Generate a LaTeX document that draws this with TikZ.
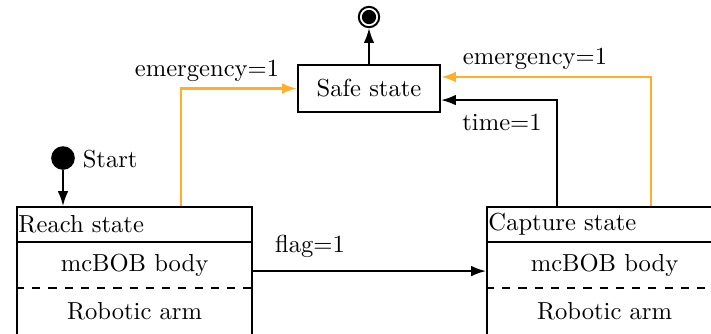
\documentclass[tikz,border=0pt]{standalone}
\usetikzlibrary{arrows.meta,calc}
\definecolor{emerg}{RGB}{255,176,40}
\begin{document}
\begin{tikzpicture}[x=0.4065pt,y=-0.4065pt,
  link/.style={line width=0.75pt,-{Latex[length=6pt,width=4.3pt]}},
  emlink/.style={link,color=emerg,line width=0.9pt},
  statebox/.style={draw,line width=0.9pt,minimum width=95.5pt,minimum height=52pt,inner sep=0pt},
  safebox/.style={draw,line width=0.9pt,minimum width=57.7pt,minimum height=19.1pt},
  lbl/.style={inner sep=0pt},
  sep/.style={line width=0.9pt},
  dsep/.style={line width=0.9pt,dash pattern=on 3.3pt off 3.3pt}
]
\useasboundingbox (0,0) rectangle (711,333);
\clip (0,0) rectangle (711,333);

% Safe state and final state
\node[safebox] (safe) at (369,88.5) {Safe state};
\node[circle,draw,line width=0.8pt,minimum size=8.3pt,inner sep=0pt] (final) at (369,17) {};
\fill (final.center) circle (2.9pt);

% Initial state
\node[circle,fill,minimum size=9.6pt,inner sep=0pt] (start) at (63,158) {};
\node[lbl,anchor=west] (startlbl) at ($(start.east)+(7,1)$) {Start};

% Reach state
\node[statebox,anchor=north west] (reach) at (16,206) {};
\draw[sep] ($(reach.north west)+(0,36)$) -- ($(reach.north east)+(0,36)$);
\draw[dsep] ($(reach.north west)+(0,82)$) -- ($(reach.north east)+(0,82)$);
\node[lbl,anchor=west] (reachtitle) at ($(reach.north west)+(2,18)$) {Reach state};
\node[lbl] (reachbody) at ($(reach.north)+(0,59)$) {mcBOB body};
\node[lbl] (reacharm) at ($(reach.north)+(0,105)$) {Robotic arm};

% Capture state
\node[statebox,anchor=north west] (capture) at (486,206) {};
\draw[sep] ($(capture.north west)+(0,36)$) -- ($(capture.north east)+(0,36)$);
\draw[dsep] ($(capture.north west)+(0,82)$) -- ($(capture.north east)+(0,82)$);
\node[lbl,anchor=west] (capturetitle) at ($(capture.north west)+(2,18)$) {Capture state};
\node[lbl] (capturebody) at ($(capture.north)+(0,59)$) {mcBOB body};
\node[lbl] (capturearm) at ($(capture.north)+(0,105)$) {Robotic arm};

% Transitions
\draw[link] (start) -- (start |- reach.north);
\draw[link] (reach.east) -- (capture.west);
\node[lbl] (flaglbl) at (310,246) {flag=1};

\coordinate (reachout) at ($(reach.north west)+(165,0)$);
\draw[emlink] (reachout) |- (safe.west);
\node[lbl] (emleft) at (207,71) {emergency=1};

\coordinate (capout) at ($(capture.north west)+(165,0)$);
\draw[emlink] (capout) |- ([yshift=4.7pt]safe.east);
\node[lbl] (emright) at (535,59) {emergency=1};

\coordinate (captime) at ($(capture.north west)+(71,0)$);
\draw[link] (captime) |- ([yshift=-4.7pt]safe.east);
\node[lbl] (timelbl) at (502,122) {time=1};

\draw[link] (safe.north) -- (final.south);
\end{tikzpicture}
\end{document}
